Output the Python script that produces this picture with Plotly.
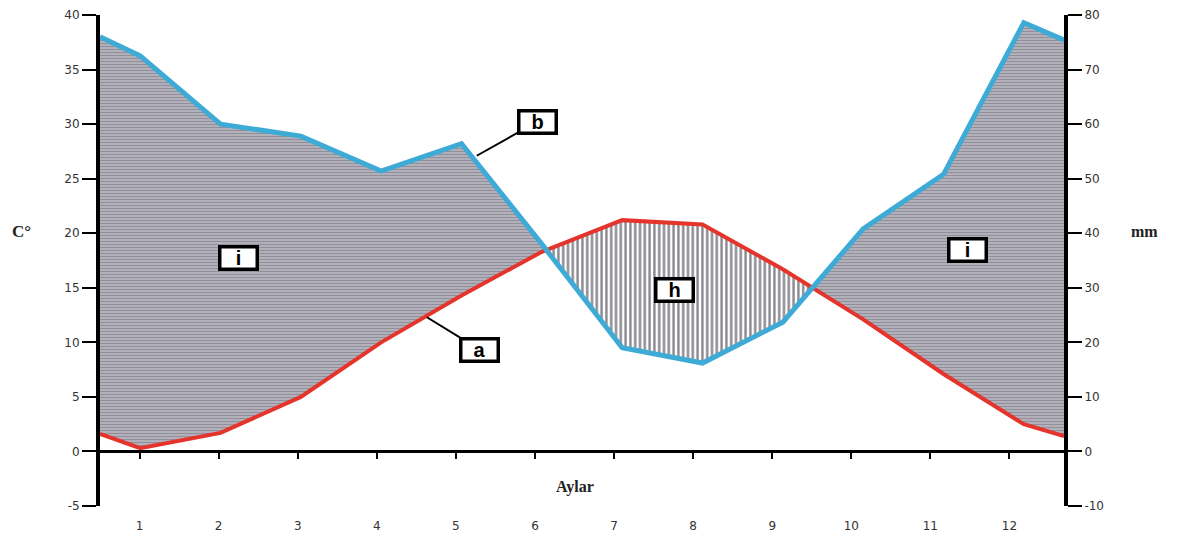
import plotly.graph_objects as go

# ---- data ----
month_x = [0.5, 1, 2, 3, 4, 5, 6, 7, 8, 9, 10, 11, 12, 12.5]
temperature_c = [1.6, 0.3, 1.7, 5.0, 10.0, 14.3, 18.3, 21.2, 20.8, 16.7, 12.1, 7.1, 2.5, 1.4]
precipitation_mm = [76.0, 72.5, 60.0, 57.8, 51.4, 56.4, 38.0, 19.0, 16.2, 23.7, 40.8, 50.8, 78.6, 75.4]
month_ticks = [1, 2, 3, 4, 5, 6, 7, 8, 9, 10, 11, 12]
month_labels = [str(m) for m in month_ticks]
temp_ticks = [-5, 0, 5, 10, 15, 20, 25, 30, 35, 40]
temp_labels = [str(v) for v in temp_ticks]
precip_ticks = [-10, 0, 10, 20, 30, 40, 50, 60, 70, 80]
precip_labels = [str(v) for v in precip_ticks]

MM_PER_DEG = 2.0  # Gaussen: P = 2T

RED = "#e5342b"
BLUE = "#3eaad6"

# precipitation expressed on the temperature scale
p_scaled = [v / MM_PER_DEG for v in precipitation_mm]

# split the area between the two curves into humid (P>2T) and dry (P<2T) regions
regions = []
d0 = p_scaled[0] - temperature_c[0]
cur = {"humid": d0 >= 0, "x": [month_x[0]], "top": [p_scaled[0]], "bot": [temperature_c[0]]}
for i in range(len(month_x) - 1):
    da = p_scaled[i] - temperature_c[i]
    db = p_scaled[i + 1] - temperature_c[i + 1]
    if da * db < 0:
        f = da / (da - db)
        xc = month_x[i] + f * (month_x[i + 1] - month_x[i])
        yc = temperature_c[i] + f * (temperature_c[i + 1] - temperature_c[i])
        cur["x"].append(xc); cur["top"].append(yc); cur["bot"].append(yc)
        regions.append(cur)
        cur = {"humid": db >= 0, "x": [xc], "top": [yc], "bot": [yc]}
    cur["x"].append(month_x[i + 1])
    cur["top"].append(p_scaled[i + 1])
    cur["bot"].append(temperature_c[i + 1])
regions.append(cur)

fig = go.Figure()

for r in regions:
    px = r["x"] + r["x"][::-1]
    py = r["top"] + r["bot"][::-1]
    if r["humid"]:
        pat = dict(shape="-", size=3, solidity=0.8, fgcolor="#221f38", bgcolor="white")
    else:
        pat = dict(shape="|", size=4.8, solidity=0.5, fgcolor="#141222", bgcolor="white")
    fig.add_trace(go.Scatter(
        x=px, y=py, mode="lines", fill="toself", fillcolor="white",
        fillpattern=pat, line=dict(width=0), hoverinfo="skip", showlegend=False,
        xaxis="x", yaxis="y"))

# temperature (a)
fig.add_trace(go.Scatter(x=month_x, y=temperature_c, mode="lines",
                         line=dict(color=RED, width=4), showlegend=False,
                         xaxis="x", yaxis="y"))
# precipitation (b)
fig.add_trace(go.Scatter(x=month_x, y=precipitation_mm, mode="lines",
                         line=dict(color=BLUE, width=5), showlegend=False,
                         xaxis="x", yaxis="y2"))
# carrier for the month tick axis
fig.add_trace(go.Scatter(x=[], y=[], xaxis="x2", yaxis="y", showlegend=False))

tickfont = dict(family="DejaVu Sans, Verdana, sans-serif", size=12, color="#333333")
labfont = dict(family="Liberation Serif, Times New Roman, serif", size=16, color="#222")

fig.update_layout(
    width=1171, height=530,
    margin=dict(l=92, r=115, t=7, b=32, autoexpand=False),
    paper_bgcolor="white", plot_bgcolor="white",
    xaxis=dict(range=[0.5, 12.5], visible=False, showgrid=False, zeroline=False,
               automargin=False),
    xaxis2=dict(overlaying="x", anchor="free", position=5 / 45, side="bottom",
                range=[0.5, 12.69], tickmode="array", tickvals=month_ticks,
                ticktext=month_labels, ticks="outside", ticklen=6, tickwidth=2,
                tickcolor="black", showline=True, linewidth=2.5, linecolor="black",
                showgrid=False, zeroline=False, tickfont=tickfont,
                ticklabelstandoff=56, automargin=False, ticklabeloverflow="allow"),
    yaxis=dict(range=[-5, 40], tickmode="array", tickvals=temp_ticks,
               ticktext=temp_labels,
               ticks="outside", ticklen=14, tickwidth=1.5, tickcolor="black",
               showline=True, linewidth=4, linecolor="black", showgrid=False,
               zeroline=False, tickfont=tickfont, automargin=False,
               ticklabeloverflow="allow"),
    yaxis2=dict(overlaying="y", side="right", range=[-10, 80], tickmode="array",
                tickvals=precip_ticks, ticktext=precip_labels,
                ticks="outside", ticklen=14, tickwidth=1.5,
                tickcolor="black", showline=True, linewidth=4, linecolor="black",
                showgrid=False, zeroline=False, tickfont=tickfont, automargin=False,
                ticklabeloverflow="allow"),
)

boxfont = dict(family="Liberation Sans, Arial, sans-serif", size=20, color="black")
box = dict(bgcolor="white", bordercolor="black", borderwidth=3.5, borderpad=1,
           width=32, height=17, font=boxfont)

fig.add_annotation(x=5.19, y=27.1, ax=5.94, ay=30.2, axref="x", ayref="y",
                   text="<b>b</b>", showarrow=True, arrowhead=0, arrowwidth=2,
                   arrowcolor="black", **box)
fig.add_annotation(x=4.57, y=12.3, ax=5.23, ay=9.3, axref="x", ayref="y",
                   text="<b>a</b>", showarrow=True, arrowhead=0, arrowwidth=2,
                   arrowcolor="black", **box)
fig.add_annotation(x=7.65, y=14.8, text="<b>h</b>", showarrow=False, **box)
fig.add_annotation(x=2.22, y=17.7, text="<b>i</b>", showarrow=False, **box)
fig.add_annotation(x=11.3, y=18.5, text="<b>i</b>", showarrow=False, **box)

fig.add_annotation(xref="paper", yref="paper", x=-0.081, y=0.56, text="<b>C°</b>",
                   xanchor="center", yanchor="middle",
                   showarrow=False, font=dict(labfont, size=17))
fig.add_annotation(xref="paper", yref="paper", x=1.084, y=0.56, text="<b>mm</b>",
                   xanchor="center", yanchor="middle", showarrow=False, font=labfont)
fig.add_annotation(xref="paper", yref="paper", x=0.4927, y=0.038, text="<b>Aylar</b>",
                   xanchor="center", yanchor="middle", showarrow=False, font=labfont)

fig.write_html("out.html")
